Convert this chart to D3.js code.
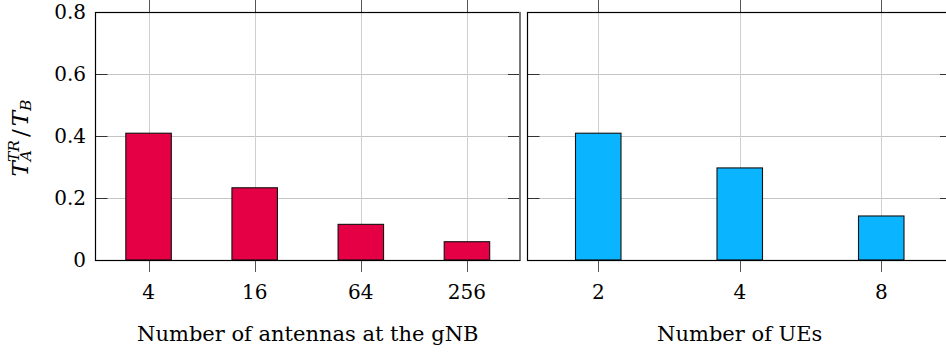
<!DOCTYPE html>
<html>
<head>
<meta charset="utf-8">
<script src="https://cdn.jsdelivr.net/npm/d3@7"></script>
<style>
  html, body { margin: 0; padding: 0; background: #fff; }
  svg { display: block; }
  text { font-family: "DejaVu Serif", "Liberation Serif", serif; fill: #000; }
</style>
</head>
<body>
<svg id="chart" width="946" height="353"></svg>
<script>
// ---- data ----
const antennaCategories = ["4", "16", "64", "256"];
const antennaRatios = [0.409, 0.233, 0.115, 0.059];
const ueCategories = ["2", "4", "8"];
const ueRatios = [0.409, 0.297, 0.142];
const yTickValues = [0, 0.2, 0.4, 0.6, 0.8];
const yTickLabels = ["0", "0.2", "0.4", "0.6", "0.8"];
const xTitles = ["Number of antennas at the gNB", "Number of UEs"];

// ---- layout ----
(function () {
const svg = d3.select("#chart");
const plotTop = 12, plotBottom = 260;
const y = d3.scaleLinear().domain([0, 0.8]).range([plotBottom, plotTop]);
const barWidth = 45.5;
const tickLen = 12;

const panels = [
  { x0: 95.5, x1: 520, cats: antennaCategories, vals: antennaRatios, color: "#E50045", title: xTitles[0], titleY: 341, showY: true },
  { x0: 527.5, x1: 952, cats: ueCategories, vals: ueRatios, color: "#0BB4FF", title: xTitles[1], titleY: 341, showY: false }
];

panels.forEach(p => {
  const x = d3.scaleBand().domain(p.cats).range([p.x0, p.x1]).padding(0);
  const g = svg.append("g");

  g.selectAll(".hgrid").data(yTickValues.filter(v => v > 0 && v < 0.8)).enter()
    .append("line")
    .attr("x1", p.x0).attr("x2", p.x1)
    .attr("y1", d => Math.round(y(d)) + 0.5).attr("y2", d => Math.round(y(d)) + 0.5)
    .attr("stroke", "#c4c4c4").attr("stroke-width", 1);

  g.selectAll(".vgrid").data(p.cats).enter()
    .append("line")
    .attr("x1", d => Math.round(x(d) + x.bandwidth() / 2) + 0.5)
    .attr("x2", d => Math.round(x(d) + x.bandwidth() / 2) + 0.5)
    .attr("y1", plotTop).attr("y2", plotBottom)
    .attr("stroke", "#cfcfcf").attr("stroke-width", 1);

  g.selectAll(".bar").data(p.cats).enter()
    .append("rect")
    .attr("x", (d) => x(d) + x.bandwidth() / 2 - barWidth / 2)
    .attr("width", barWidth)
    .attr("y", (d, i) => y(p.vals[i]))
    .attr("height", (d, i) => plotBottom - y(p.vals[i]))
    .attr("fill", p.color)
    .attr("stroke", "#111").attr("stroke-width", 1.1);

  yTickValues.filter(v => v > 0 && v < 0.8).forEach(v => {
    const yy = Math.round(y(v)) + 0.5;
    g.append("line").attr("x1", p.x0).attr("x2", p.x0 + tickLen)
      .attr("y1", yy).attr("y2", yy).attr("stroke", "#333").attr("stroke-width", 1);
    g.append("line").attr("x1", p.x1 - tickLen).attr("x2", p.x1)
      .attr("y1", yy).attr("y2", yy).attr("stroke", "#333").attr("stroke-width", 1);
  });

  p.cats.forEach(c => {
    const xx = Math.round(x(c) + x.bandwidth() / 2) + 0.5;
    g.append("line").attr("x1", xx).attr("x2", xx).attr("y1", plotBottom).attr("y2", plotBottom + tickLen)
      .attr("stroke", "#555").attr("stroke-width", 1);
    g.append("line").attr("x1", xx).attr("x2", xx).attr("y1", 0).attr("y2", plotTop)
      .attr("stroke", "#555").attr("stroke-width", 1);
  });

  g.append("rect").attr("x", p.x0).attr("y", plotTop + 0.5)
    .attr("width", p.x1 - p.x0).attr("height", plotBottom - plotTop)
    .attr("fill", "none").attr("stroke", "#000").attr("stroke-width", 1.2);

  g.selectAll(".xl").data(p.cats).enter()
    .append("text")
    .attr("x", d => x(d) + x.bandwidth() / 2)
    .attr("y", 298.5)
    .attr("text-anchor", "middle")
    .attr("font-size", 20)
    .text(d => d);

  g.append("text")
    .attr("x", (p.x0 + p.x1) / 2)
    .attr("y", p.titleY)
    .attr("text-anchor", "middle")
    .attr("font-size", 21)
    .text(p.title);

  if (p.showY) {
    g.selectAll(".yl").data(yTickValues).enter()
      .append("text")
      .attr("x", 86)
      .attr("y", d => y(d))
      .attr("dy", "0.36em")
      .attr("text-anchor", "end")
      .attr("font-size", 20)
      .text((d, i) => yTickLabels[i]);
  }
});

svg.append("line").attr("x1", 520).attr("x2", 520).attr("y1", plotTop).attr("y2", plotBottom)
  .attr("stroke", "#777").attr("stroke-width", 2);

const lbl = svg.append("g").attr("transform", "translate(28,138) rotate(-90)");
const t = lbl.append("text").attr("text-anchor", "middle").attr("font-style", "italic").attr("font-size", 23);
t.append("tspan").text("T");
const subA = t.append("tspan").attr("font-size", 15.5).attr("dy", 3).attr("dx", 0).text("A");
const wA = subA.node().getComputedTextLength();
t.append("tspan").attr("font-size", 15.5).attr("dy", -12).attr("dx", -wA).text("TR");
t.append("tspan").attr("dy", 9).attr("dx", 3).attr("font-style", "normal").text("/");
t.append("tspan").attr("dx", 3).text("T");
t.append("tspan").attr("font-size", 15.5).attr("dy", 3).text("B");
})();
</script>
</body>
</html>
